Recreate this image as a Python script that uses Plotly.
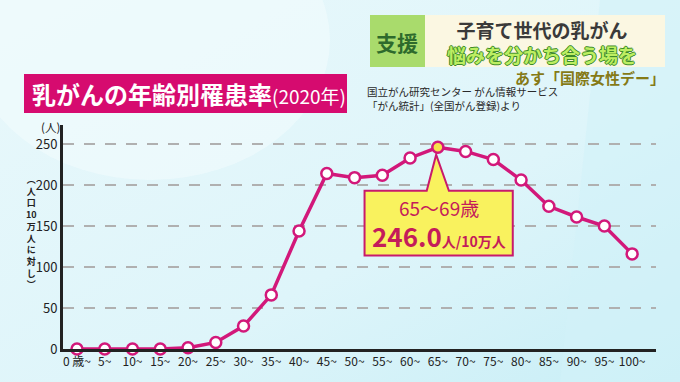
import base64
import plotly.graph_objects as go

# ---------------- data ----------------
ages = [0, 5, 10, 15, 20, 25, 30, 35, 40, 45, 50, 55, 60, 65, 70, 75, 80, 85, 90, 95, 100]
rates = [0, 0, 0, 0, 1.5, 8, 28, 66, 144, 214, 209, 212, 233, 246.0, 241, 231, 206, 174, 161, 150, 116]
x_tick_text = ["0 歳~", "5~", "10~", "15~", "20~", "25~", "30~", "35~", "40~", "45~", "50~",
               "55~", "60~", "65~", "70~", "75~", "80~", "85~", "90~", "95~", "100~"]
y_ticks = [0, 50, 100, 150, 200, 250]
peak_index = 13
title_main = "乳がんの年齢別罹患率"
title_year = "(2020年)"
header_line1 = "子育て世代の乳がん"
header_line2 = "悩みを分かち合う場を"
source_lines = ["国立がん研究センター がん情報サービス", "「がん統計」(全国がん登録)より"]
callout_age = "65〜69歳"
callout_value = "246.0"
callout_unit = "人/10万人"
y_unit = "(人)"
y_axis_label = ["︵", "人", "口", "10", "万", "人", "に", "対", "し", "︶"]

# ---------------- layout geometry ----------------
W, H = 680, 382
L, R, T, B = 63, 24, 125, 33
PW, PH = W - L - R, H - T - B
FONT = "Noto Sans CJK JP"
MAGENTA = "#d2187a"


def xp(px):
    return (px - L) / PW


def yp(py):
    return (H - B - py) / PH


fig = go.Figure()

marker_fill = ["#f6e14a" if i == peak_index else "white" for i in range(len(ages))]
fig.add_trace(go.Scatter(
    x=ages, y=rates, mode="lines+markers",
    line=dict(color=MAGENTA, width=3.5),
    marker=dict(size=11, color=marker_fill, line=dict(color=MAGENTA, width=2.5)),
    cliponaxis=False, hoverinfo="skip",
))

# background gradient
svg = (
    '<svg xmlns="http://www.w3.org/2000/svg" width="680" height="382">'
    '<defs><linearGradient id="g" x1="0" y1="0" x2="1" y2="1">'
    '<stop offset="0" stop-color="#e9f8fb"/><stop offset="0.6" stop-color="#def5fa"/>'
    '<stop offset="1" stop-color="#c8eef6"/></linearGradient></defs>'
    '<rect width="680" height="382" fill="url(#g)"/>'
    '<ellipse cx="150" cy="40" rx="180" ry="140" fill="#f2fbfd" opacity="0.6"/>'
    '<polygon points="600,0 680,0 680,382 560,382" fill="#d2f2f8" opacity="0.6"/>'
    '</svg>'
)
fig.add_layout_image(dict(
    source="data:image/svg+xml;base64," + base64.b64encode(svg.encode()).decode(),
    xref="paper", yref="paper", x=xp(0), y=yp(0), sizex=W / PW, sizey=H / PH,
    xanchor="left", yanchor="top", sizing="stretch", layer="below",
))

shapes = []
annotations = []


def note(x, y, text, size, color, xanchor="center", yanchor="middle", align="center", **kw):
    annotations.append(dict(xref="paper", yref="paper", x=xp(x), y=yp(y), xanchor=xanchor, yanchor=yanchor,
                            showarrow=False, borderpad=0, text=text, align=align,
                            font=dict(family=FONT, size=size, color=color, **kw)))


# title bar
shapes.append(dict(type="rect", xref="paper", yref="paper", x0=xp(24), x1=xp(347), y0=yp(113), y1=yp(74),
                   fillcolor="#d60b6f", line=dict(width=0), layer="above"))
note(31, 94, "<b>" + title_main + "</b><span style='font-size:19px'>" + title_year + "</span>",
     24, "white", xanchor="left")

# header boxes
shapes.append(dict(type="rect", xref="paper", yref="paper", x0=xp(370), x1=xp(425), y0=yp(67), y1=yp(15),
                   fillcolor="#a9db6c", line=dict(width=0), layer="above"))
shapes.append(dict(type="rect", xref="paper", yref="paper", x0=xp(425), x1=xp(665), y0=yp(67), y1=yp(15),
                   fillcolor="#fbf7e2", line=dict(width=0), layer="above"))
note(397, 42, "<b>支援</b>", 21, "#2e6a2c")
note(542, 42,
     "<b><span style='color:#3a3a3a'>" + header_line1 + "</span><br>"
     "<span style='color:#bdee62;text-shadow:1px 0 0 #3d8a2a,-1px 0 0 #3d8a2a,0 1px 0 #3d8a2a,0 -1px 0 #3d8a2a'>"
     + header_line2 + "</span></b>",
     19, "#3a3a3a")
note(666, 77, "<b>あす「国際女性デー」</b>", 15, "#857a16", xanchor="right")

# source text
note(366, 98, "<br>".join(source_lines), 10.5, "#2a2a2a", xanchor="left", align="left")

# y unit and vertical label
note(61, 127, y_unit, 11.5, "#222", xanchor="right")
note(31, 232, "<b>" + "<br>".join(y_axis_label) + "</b>", 9, "#222")

# callout box anchored to the peak point
px_peak = ages[peak_index]
py_peak = rates[peak_index]
bx0, bx1 = px_peak - 13.2, px_peak + 13.5
by0, by1 = py_peak - 132, py_peak - 53
tx0, tx1 = px_peak - 2.0, px_peak + 2.0
path = (f"M {bx0},{by1} L {tx0},{by1} L {px_peak - 0.3},{py_peak - 9} L {tx1},{by1} "
        f"L {bx1},{by1} L {bx1},{by0} L {bx0},{by0} Z")
shapes.append(dict(type="path", xref="x", yref="y", path=path, fillcolor="#f9f25e",
                   line=dict(color="#c81a6c", width=2), layer="above"))
annotations.append(dict(xref="x", yref="y", x=px_peak + 0.2, y=py_peak - 73, showarrow=False,
                        xanchor="center", yanchor="middle",
                        text=callout_age, font=dict(family=FONT, size=19, color="#c41c5a")))
annotations.append(dict(xref="x", yref="y", x=px_peak + 0.2, y=py_peak - 107, showarrow=False,
                        xanchor="center", yanchor="middle",
                        text="<b>" + callout_value + "</b><span style='font-size:14px'><b>" + callout_unit + "</b></span>",
                        font=dict(family=FONT, size=26, color="#c41c5a")))

fig.update_layout(
    width=W, height=H,
    margin=dict(l=L, r=R, t=T, b=B, pad=0),
    paper_bgcolor="#e2f6fa", plot_bgcolor="white",
    showlegend=False,
    shapes=shapes, annotations=annotations,
    font=dict(family=FONT),
    xaxis=dict(range=[-2.52, 104.3], tickmode="array", tickvals=ages, ticktext=x_tick_text,
               showgrid=False, zeroline=False, showline=True, linecolor="#222", linewidth=3,
               tickfont=dict(family=FONT, size=12, color="#222"), ticks="", fixedrange=True),
    yaxis=dict(range=[0, 273.2], tickmode="array", tickvals=y_ticks, ticktext=[str(v) for v in y_ticks],
               showgrid=True, gridcolor="#b0b0b0", gridwidth=1.5, griddash="11px,10px", zeroline=False,
               showline=True, linecolor="#222", linewidth=3,
               tickfont=dict(family=FONT, size=13, color="#222"), ticks="", fixedrange=True),
)

fig.write_html("out.html", config={"displayModeBar": False},
               post_script="document.body.style.margin='0';document.body.style.overflow='hidden';")
